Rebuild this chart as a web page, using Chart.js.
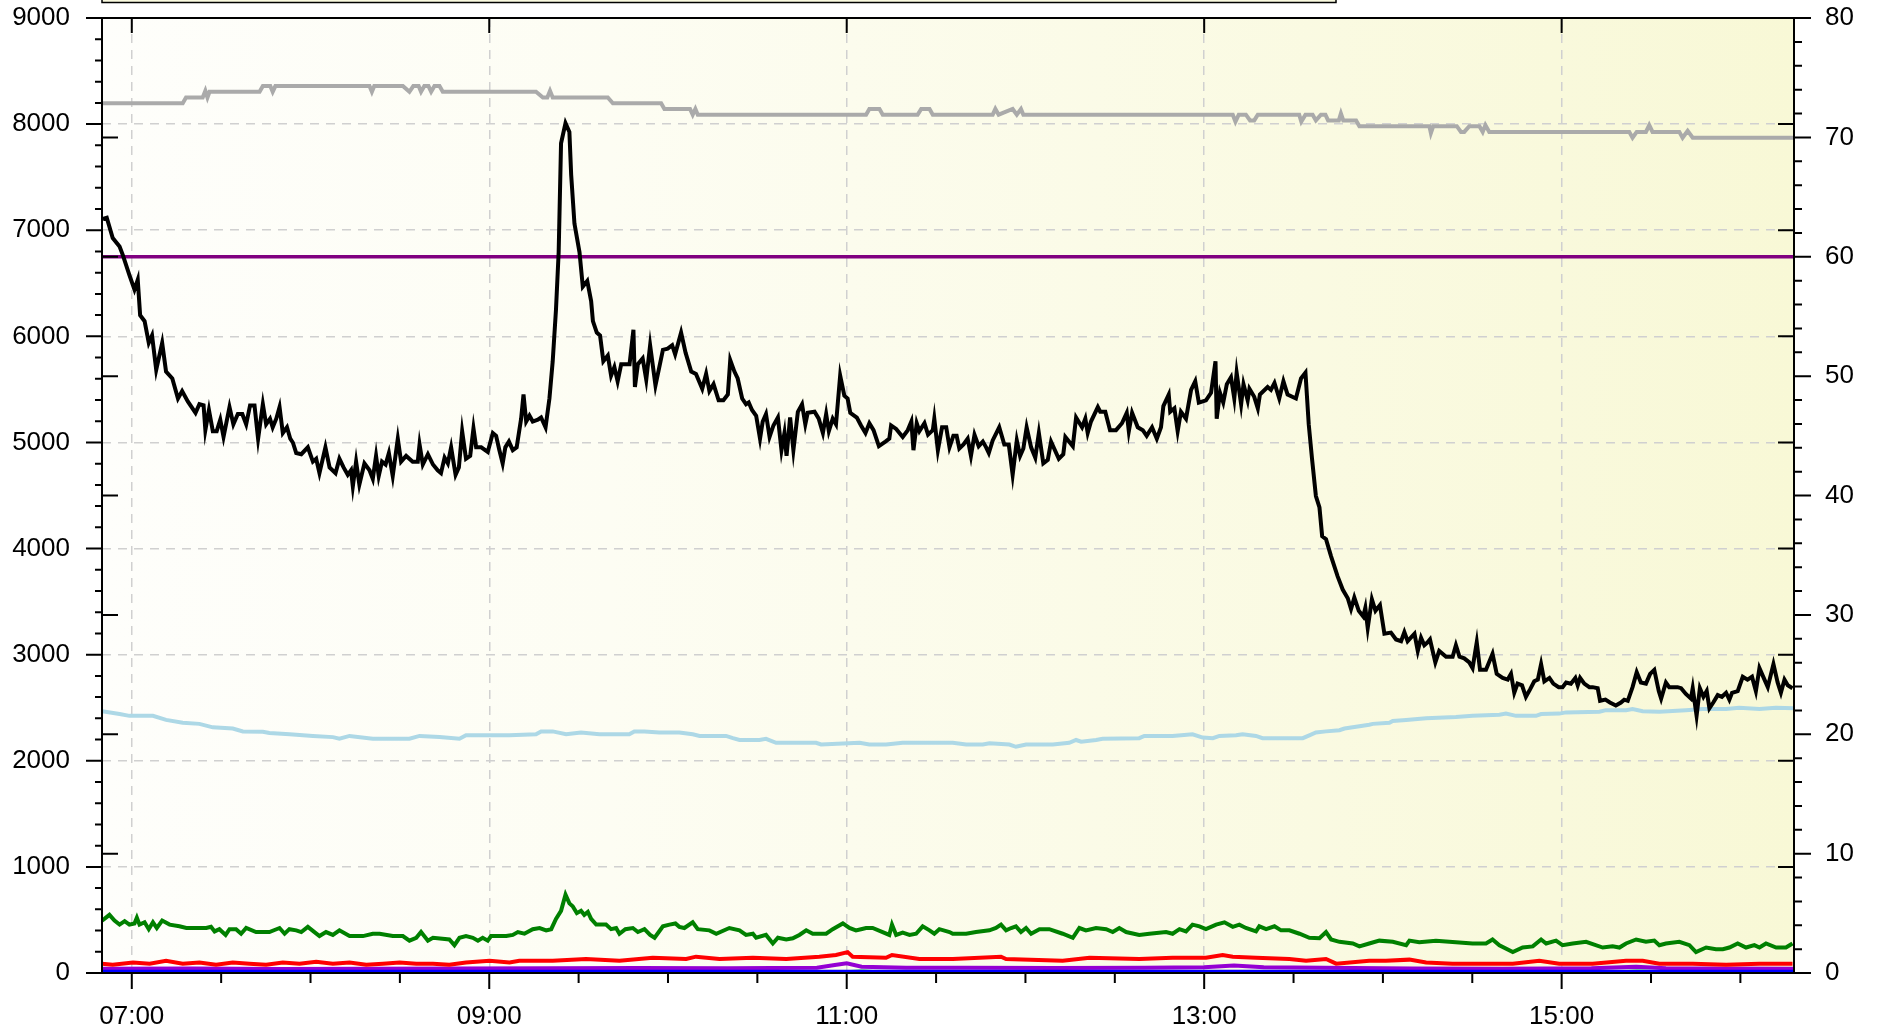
<!DOCTYPE html>
<html>
<head>
<meta charset="utf-8">
<script src="https://cdn.jsdelivr.net/npm/chart.js@4.4.1/dist/chart.umd.min.js"></script>
<style>
  html, body { margin: 0; padding: 0; background: #fff; }
  canvas { display: block; }
</style>
</head>
<body>
<canvas id="chart" width="1877" height="1031"></canvas>
<script>
// x axis is minutes since midnight (06:50 .. 16:18)
const xMin = 410, xMax = 978;
const hourTicks = [420, 540, 660, 780, 900];
const hourLabels = ['07:00', '09:00', '11:00', '13:00', '15:00'];
const halfHourTicks = [420, 450, 480, 510, 540, 570, 600, 630, 660, 690, 720, 750, 780, 810, 840, 870, 900, 930, 960];
const leftTicks = [0, 1000, 2000, 3000, 4000, 5000, 6000, 7000, 8000, 9000];
const leftMinorStep = 200;
const rightTicks = [0, 10, 20, 30, 40, 50, 60, 70, 80];
const rightMinorStep = 2;

// black line (left axis)
const blackTimes = [410.3, 411.6, 413.6, 415.9, 417, 419.2, 420.9, 422, 422.8, 424.3, 425.7, 426.8, 428.2, 430.2, 431.5, 433.6, 435.5, 436.9, 438.8, 441.4,
  442.7, 444.1, 444.7, 445.9, 447.2, 448.5, 449.7, 450.8, 452.8, 454.1, 455.6, 457.1, 458.4, 459.7, 461.2, 462.4, 464, 465.1, 466.4, 467.3,
  468.5, 469.6, 470.7, 472.1, 473.2, 474.1, 475.2, 476.9, 479.1, 480.8, 481.9, 483, 485, 486.4, 488.4, 489.7, 491.1, 492.5, 493.6, 494.2,
  495.3, 496.4, 498.1, 499.8, 500.9, 502, 502.9, 504, 505.2, 506.3, 507.6, 509.3, 510.4, 512.1, 514.3, 516, 516.6, 517.7, 519.4, 521.1,
  522.7, 523.8, 525, 526.1, 527.2, 528.7, 529.8, 530.9, 532.2, 533.6, 534.7, 535.6, 537.3, 539.5, 541.2, 542.3, 543.4, 544.5, 545.4, 546.6,
  547.9, 549.2, 550.7, 551.5, 552.4, 553.5, 554.6, 556.3, 557.4, 558.9, 560.2, 561.3, 562.4, 563.3, 564.1, 565.6, 566.9, 567.5, 568.6, 570.3,
  571.4, 572.9, 574.2, 574.8, 576.1, 577.2, 578.3, 579.8, 580.9, 582, 583.1, 584.3, 587.1, 588.4, 588.9, 589.9, 591.5, 592.7, 594, 595.8,
  598.3, 599.9, 601.4, 602.4, 604.4, 605.9, 607.8, 609.4, 611.5, 612.8, 613.9, 615.3, 617, 618.6, 620.1, 620.9, 622.3, 623.4, 624.9, 626.2,
  627.1, 628.2, 629.6, 630.9, 631.8, 632.9, 634.1, 635.4, 636.9, 638.1, 639.1, 639.8, 641, 642.1, 643.6, 645, 646.1, 646.9, 649.2, 650.6,
  652, 653.1, 654, 655.3, 656.4, 657.8, 659.2, 660.3, 661.2, 663.4, 664.8, 666.3, 667.6, 669, 670.8, 673, 674.3, 674.9, 676.6, 678.8,
  680.5, 681.7, 682.4, 683.5, 684.4, 686.1, 687.3, 688.9, 689.4, 690.6, 692, 693.4, 694.5, 695.8, 696.9, 697.8, 699.2, 700.6, 701.7, 702.9,
  704.3, 705.7, 706.8, 707.7, 709, 711.2, 712.9, 714.4, 715.7, 717.1, 718.2, 719.3, 720.4, 721.9, 723.3, 724.5, 726, 727.5, 728.6, 731.2,
  732.7, 733.4, 735.9, 737, 739, 740.1, 740.9, 742, 744.3, 745.1, 746.8, 748.4, 750.4, 752.4, 754, 754.7, 755.8, 757.7, 759.4, 760.7,
  762.5, 764.1, 765.5, 766.3, 768.1, 768.6, 770, 771.1, 772.2, 773.9, 775.6, 777, 778.2, 780.6, 782.3, 783.8, 784.2, 785.3, 786.4, 787.6,
  789, 790.1, 790.9, 792.4, 793.2, 794.6, 795.2, 796.8, 798, 798.7, 801.3, 802.4, 803.6, 805.2, 806.6, 808, 810.8, 812.5, 814, 815.1,
  816.2, 817.5, 818.7, 819.6, 820.9, 822.6, 824.8, 826.5, 828.2, 829.3, 830.4, 831.9, 833.4, 834.1, 834.9, 836.3, 837.5, 839, 840.5, 842.7,
  844.4, 846.1, 847.2, 848.3, 850.6, 851.7, 852.8, 853.9, 855, 855.8, 857.6, 858.9, 861.2, 863.4, 864.5, 865.7, 867.3, 869, 870.1, 871.5,
  872.6, 874.6, 876.8, 878.2, 880.2, 881.9, 883, 884.1, 885.2, 886.7, 888, 889.4, 890.8, 892, 893.1, 894.2, 895.9, 897.2, 899, 900.3,
  901.5, 903.1, 904.6, 905.4, 906.2, 907.6, 909.3, 910.4, 912.1, 912.9, 914.7, 916.2, 918.2, 919.9, 921, 922.2, 923.8, 925.2, 926.6, 928.3,
  929.7, 931.1, 932.6, 933.4, 935, 936.1, 938.9, 940.1, 941.7, 943.4, 944, 945.3, 946.4, 947.6, 948.7, 949.6, 950.9, 952.4, 953.8, 955.2,
  956.3, 957.2, 959.1, 960.8, 962.4, 963.9, 965.2, 966.4, 967.5, 969.2, 971.1, 972.5, 973.6, 974.8, 975.9, 977.5];
const blackValues = [7106, 7117, 6927, 6846, 6765, 6576, 6441, 6533, 6198, 6143, 5938, 6008, 5684, 5938, 5668, 5603, 5414, 5484, 5387, 5279,
  5360, 5349, 5116, 5306, 5106, 5106, 5214, 5052, 5333, 5171, 5268, 5268, 5171, 5349, 5349, 5035, 5360, 5171, 5224, 5143,
  5224, 5333, 5089, 5143, 5035, 4997, 4900, 4889, 4954, 4819, 4846, 4711, 4954, 4765, 4711, 4846, 4765, 4695, 4738, 4587,
  4819, 4603, 4803, 4738, 4657, 4873, 4684, 4819, 4792, 4900, 4684, 5035, 4819, 4873, 4819, 4819, 4981, 4792, 4889, 4792,
  4738, 4711, 4857, 4803, 4954, 4695, 4765, 5106, 4846, 4873, 5133, 4954, 4954, 4911, 5089, 5062, 4927, 4803, 4954, 5008,
  4927, 4954, 5224, 5452, 5197, 5252, 5197, 5214, 5235, 5143, 5414, 5765, 6252, 6792, 7819, 8009, 7927, 7522, 7063, 6792,
  6468, 6522, 6333, 6144, 6035, 6008, 5765, 5819, 5630, 5711, 5576, 5738, 5738, 6062, 5522, 5738, 5792, 5592, 5916, 5538,
  5873, 5884, 5916, 5830, 6035, 5846, 5668, 5646, 5506, 5646, 5484, 5549, 5397, 5397, 5452, 5776, 5668, 5603, 5414, 5360,
  5376, 5306, 5252, 5035, 5197, 5268, 5052, 5160, 5235, 4927, 5089, 4873, 5235, 4927, 5289, 5360, 5171, 5279, 5289, 5224,
  5089, 5268, 5106, 5224, 5171, 5630, 5441, 5414, 5279, 5235, 5160, 5089, 5181, 5116, 4965, 5008, 5035, 5160, 5127, 5052,
  5116, 5197, 4927, 5181, 5106, 5181, 5073, 5116, 5224, 4927, 5143, 5143, 4954, 5062, 5062, 4943, 4981, 5035, 4873, 5073,
  4965, 5008, 4954, 4900, 5019, 5143, 4981, 4981, 4695, 5019, 4873, 4943, 5143, 4954, 4857, 5089, 4803, 4835, 5008, 4846,
  4889, 5052, 4965, 5235, 5143, 5224, 5089, 5197, 5333, 5289, 5289, 5116, 5116, 5181, 5279, 5106, 5279, 5143, 5116, 5062,
  5143, 5035, 5143, 5343, 5451, 5289, 5322, 5106, 5289, 5224, 5495, 5576, 5376, 5397, 5468, 5765, 5224, 5468, 5376, 5549,
  5614, 5414, 5657, 5360, 5549, 5397, 5506, 5430, 5322, 5451, 5522, 5495, 5560, 5414, 5576, 5451, 5414, 5603, 5657, 5170,
  4846, 4495, 4387, 4116, 4089, 3927, 3738, 3614, 3532, 3430, 3538, 3413, 3359, 3441, 3251, 3522, 3414, 3468, 3197, 3208,
  3143, 3127, 3213, 3127, 3197, 3035, 3160, 3089, 3116, 3143, 2927, 3035, 2981, 2981, 3089, 2981, 2965, 2927, 2873, 3116,
  2857, 2857, 3008, 2819, 2781, 2765, 2819, 2641, 2727, 2711, 2603, 2673, 2749, 2765, 2911, 2749, 2781, 2727, 2694, 2694,
  2738, 2727, 2781, 2711, 2781, 2727, 2694, 2694, 2684, 2565, 2576, 2549, 2521, 2549, 2576, 2565, 2694, 2835, 2738, 2727,
  2819, 2857, 2657, 2586, 2738, 2694, 2694, 2684, 2630, 2586, 2684, 2424, 2684, 2603, 2657, 2494, 2549, 2619, 2603, 2641,
  2576, 2641, 2657, 2792, 2765, 2792, 2657, 2873, 2803, 2694, 2911, 2738, 2641, 2765, 2711, 2684];

// grey line (right axis)
const greyTimes = [410, 437.1, 438.2, 443.8, 444.7, 445.4, 446.1, 462.9, 464, 466.5, 467.3, 468.2, 499.8, 500.6, 501.4, 511, 513.2, 514.5, 516.3, 517.1,
  518.2, 519.6, 520.5, 521.6, 523.3, 524.4, 555.7, 558, 559.5, 560.4, 561.3, 579.8, 581.5, 597.7, 598.8, 607.4, 608.3, 609.2, 610, 666.5,
  667.6, 671, 672.1, 683.8, 685, 687.8, 688.9, 709, 709.9, 711, 715.7, 717.1, 718.5, 719.3, 789.6, 790.5, 791.6, 794, 795.4, 796.8,
  798, 811.9, 812.6, 814, 816.4, 817.5, 819.2, 820.7, 821.6, 825.2, 825.9, 826.7, 831, 832.1, 855.6, 856.1, 856.9, 864.8, 866.2, 867.3,
  869, 872.4, 873.5, 874.4, 875.7, 922.7, 923.8, 925.2, 928.3, 929.4, 930.5, 939.5, 940.6, 942.3, 944, 978];
const greyValues = [72.86, 72.86, 73.34, 73.34, 73.9, 73.34, 73.82, 73.82, 74.3, 74.3, 73.82, 74.3, 74.3, 73.82, 74.3, 74.3, 73.82, 74.3, 74.3, 73.82,
  74.3, 74.3, 73.82, 74.3, 74.3, 73.82, 73.82, 73.34, 73.34, 73.9, 73.34, 73.34, 72.86, 72.86, 72.38, 72.38, 71.9, 72.38, 71.9, 71.9,
  72.38, 72.38, 71.9, 71.9, 72.38, 72.38, 71.9, 71.9, 72.38, 71.9, 72.38, 71.9, 72.38, 71.9, 71.9, 71.32, 71.9, 71.9, 71.42, 71.42,
  71.9, 71.9, 71.32, 71.9, 71.9, 71.42, 71.9, 71.9, 71.42, 71.42, 72.0, 71.42, 71.42, 70.94, 70.94, 70.36, 70.94, 70.94, 70.46, 70.46,
  70.94, 70.94, 70.46, 71.03, 70.46, 70.46, 69.97, 70.46, 70.46, 71.03, 70.46, 70.46, 69.97, 70.55, 69.97, 69.97];

// light blue line (right axis)
const blueLightTimes = [410, 415.9, 419.2, 427.1, 431.5, 437.1, 442.7, 447.2, 453.9, 457.3, 464, 466.2, 473, 480.8, 487.5, 489.7, 493.1, 500.9, 513.2, 516.6,
  523.3, 530, 532.2, 546.8, 555.7, 557.4, 561.3, 565.8, 570.8, 577, 587, 588.7, 592.1, 597.1, 603.8, 608.3, 610.6, 619.5, 621.8, 624,
  630.7, 632.9, 636.3, 649.7, 651.4, 664.3, 667.6, 673.2, 678.8, 695.6, 700.1, 705.7, 707.9, 714.6, 716.8, 720.2, 729.2, 734.7, 737, 738.7,
  743.7, 745.9, 758.2, 759.9, 765, 769.4, 776.1, 779.5, 782.9, 785.1, 790.7, 792.9, 797.4, 799.6, 813.1, 815.3, 817.5, 820.9, 825.4, 827.1,
  831, 835.4, 836.6, 842.2, 843.3, 847.8, 854.5, 864.5, 870.1, 879.1, 881.3, 884.7, 891.4, 893.1, 899.2, 901.5, 912.7, 914.9, 921.6, 923.8,
  927.2, 932.8, 941.7, 947.3, 955.2, 959.6, 966.4, 971.9, 978];
const blueLightValues = [21.93, 21.69, 21.54, 21.54, 21.2, 20.96, 20.87, 20.58, 20.48, 20.24, 20.2, 20.1, 20.0, 19.86, 19.76, 19.62, 19.86, 19.62, 19.62, 19.86,
  19.76, 19.62, 19.91, 19.91, 20.0, 20.24, 20.24, 20.0, 20.15, 20.0, 20.0, 20.24, 20.24, 20.15, 20.15, 20.0, 19.86, 19.86, 19.67, 19.52,
  19.52, 19.62, 19.28, 19.28, 19.14, 19.28, 19.14, 19.14, 19.28, 19.28, 19.14, 19.14, 19.24, 19.14, 18.95, 19.14, 19.14, 19.28, 19.52, 19.38,
  19.52, 19.62, 19.67, 19.86, 19.86, 19.86, 20.0, 19.72, 19.67, 19.86, 19.91, 20.0, 19.86, 19.67, 19.67, 19.91, 20.15, 20.24, 20.34, 20.48,
  20.63, 20.8, 20.87, 20.96, 21.11, 21.2, 21.35, 21.45, 21.54, 21.64, 21.73, 21.54, 21.54, 21.69, 21.73, 21.83, 21.88, 22.02, 22.02, 22.12,
  21.93, 21.88, 22.02, 22.12, 22.12, 22.21, 22.12, 22.21, 22.17];

// purple limit line (right axis)
const limitTimes = [410, 978];
const limitValues = [60, 60];

// green line (left axis)
const greenTimes = [410, 410.8, 412.5, 414.2, 415.9, 417.6, 419.2, 420.9, 421.7, 422.6, 424.3, 425.7, 427.1, 428.4, 430.2, 432.7, 436, 438.3, 445, 446.6,
  447.8, 449.4, 451.5, 452.8, 455, 456.7, 458.4, 461.7, 466.2, 469.6, 471.3, 472.9, 475.2, 476.9, 479.1, 483, 485.2, 487.5, 489.7, 493.1,
  497.6, 500.9, 503.2, 507.6, 511, 513.2, 515.5, 517.1, 519.4, 521.1, 526.6, 528.3, 530, 532.2, 534.5, 536.2, 537.8, 539.5, 540.6, 545.7,
  547.9, 549.6, 551.8, 554.6, 556.9, 559.1, 560.8, 562.4, 564.1, 565.6, 566.9, 568, 569.4, 570.8, 571.9, 573.1, 574.2, 575.9, 579.2, 580.9,
  582.6, 583.7, 585.7, 588.2, 589.9, 592.1, 594, 595.5, 598.3, 600.5, 602.5, 603.8, 605.5, 608.3, 610, 613.9, 616.2, 620.6, 624, 626.2,
  628.5, 629.6, 632.9, 635.2, 636.9, 639.7, 641.9, 644.1, 646.4, 648.6, 653.1, 655.3, 658.7, 660.9, 663.1, 664.8, 666.5, 668.7, 674.3, 675.2,
  676.6, 678.8, 681.1, 683.3, 685.5, 687.8, 689.4, 691.1, 694.5, 695.6, 700.1, 703.4, 707.9, 710.1, 711.8, 713.5, 715.2, 716.8, 718.5, 720.2,
  721.9, 724.7, 728, 732.5, 735.9, 738.1, 740.3, 743.7, 747.1, 749.3, 751.5, 753.8, 758.2, 761.6, 767.2, 769.4, 771.7, 773.9, 776.1, 778.4,
  780.6, 784, 786.8, 789.6, 791.8, 794, 797.4, 798.5, 800.8, 803.6, 805.8, 808.6, 812, 815.3, 818.7, 820.9, 822.6, 825.4, 829.9, 832.1,
  835.4, 838.8, 843.3, 847.8, 848.9, 852.2, 857.8, 864.5, 870.1, 874.6, 876.8, 879.1, 883.6, 886.9, 890.3, 893.1, 894.8, 898.1, 900.3, 903.7,
  908.2, 913.8, 917.1, 919.4, 921.6, 925, 928.3, 931.1, 932.8, 935, 939.5, 942.9, 945.1, 948.5, 951.8, 954.1, 956.3, 959.1, 961.9, 964.7,
  966.4, 968.6, 972, 975.3, 977.5];
const greenValues = [494, 510, 548, 494, 456, 489, 456, 467, 521, 456, 478, 413, 478, 424, 494, 456, 440, 424, 424, 435,
  392, 413, 359, 413, 413, 370, 424, 386, 386, 424, 370, 413, 402, 386, 435, 348, 386, 359, 402, 348,
  348, 370, 370, 348, 348, 305, 332, 386, 305, 332, 316, 262, 332, 348, 332, 305, 332, 305, 348, 348,
  359, 386, 370, 413, 424, 402, 413, 510, 586, 738, 656, 629, 564, 586, 548, 575, 510, 456, 456, 413,
  424, 370, 413, 424, 386, 413, 359, 332, 440, 456, 467, 435, 424, 478, 413, 402, 370, 424, 402, 359,
  370, 332, 359, 278, 332, 316, 327, 359, 402, 370, 370, 413, 467, 424, 402, 413, 424, 424, 359, 456,
  359, 381, 359, 370, 440, 402, 370, 413, 386, 370, 370, 386, 402, 424, 456, 402, 424, 440, 386, 424,
  370, 413, 413, 370, 332, 424, 402, 424, 413, 386, 424, 386, 359, 370, 386, 370, 413, 392, 456, 440,
  413, 456, 478, 435, 456, 424, 392, 440, 413, 440, 402, 402, 370, 332, 327, 386, 316, 294, 278, 251,
  278, 305, 294, 262, 305, 289, 305, 289, 278, 278, 316, 262, 197, 240, 251, 316, 278, 305, 262, 278,
  294, 240, 251, 240, 278, 316, 294, 305, 262, 278, 294, 262, 197, 240, 224, 224, 240, 278, 240, 262,
  240, 278, 240, 240, 278];

// red line (left axis)
const redTimes = [410, 413.6, 420.4, 426, 431.5, 437.1, 442.7, 448.3, 453.9, 459.5, 465.1, 470.7, 476.3, 481.9, 487.5, 493.1, 498.7, 504.3, 509.9, 515.5,
  521.1, 526.6, 532.2, 540.1, 546.8, 550.1, 561.3, 572.5, 583.7, 594.9, 606.1, 609.4, 617.3, 628.5, 639.7, 650.8, 656.4, 660.3, 662, 673.2,
  675.2, 684.4, 695.6, 711.8, 713.5, 732.5, 741.5, 758.2, 769.4, 780.6, 786.2, 789.6, 797.4, 808.6, 814.2, 820.9, 824.3, 835.4, 841, 848.9,
  854.5, 863.4, 883.6, 892.5, 899.2, 910.4, 921.6, 927.2, 932.8, 944, 955.2, 966.4, 977.5];
const redValues = [88, 78, 99, 88, 115, 88, 99, 78, 99, 88, 78, 99, 88, 105, 88, 99, 78, 88, 99, 88,
  88, 78, 99, 115, 99, 115, 115, 132, 115, 143, 132, 154, 132, 143, 132, 154, 170, 197, 154, 143,
  170, 132, 132, 154, 132, 115, 143, 132, 143, 143, 170, 154, 143, 132, 115, 132, 88, 115, 115, 126,
  99, 88, 88, 115, 88, 88, 115, 115, 88, 88, 78, 88, 88];

// violet, blue and light green lines near zero (left axis)
const violetTimes = [410, 440, 470, 500, 530, 560, 590, 620, 650, 656, 660, 665, 680, 700, 730, 760, 780, 790, 800, 820, 850, 880, 910, 925, 935, 950, 978];
const violetValues = [40, 42, 38, 40, 42, 45, 48, 45, 50, 75, 92, 60, 50, 50, 48, 50, 55, 70, 55, 50, 42, 40, 45, 60, 45, 42, 40];
const blueTimes = [410, 978];
const blueValues = [12, 12];
const paleGreenTimes = [410, 552, 557, 562, 660, 665, 670, 920, 926, 932, 978];
const paleGreenValues = [5, 5, 18, 5, 5, 20, 5, 5, 22, 5, 5];

function pairs(times, values) {
    return times.map((t, i) => ({ x: t, y: values[i] }));
}

function hhmm(m) {
    const h = Math.floor(m / 60), mm = m % 60;
    return String(h).padStart(2, '0') + ':' + String(mm).padStart(2, '0');
}

const font = { family: 'Liberation Sans', size: 26 };

// drop the label overflow padding so the plot top sits right under the legend box
function noPad(s) {
    s.paddingTop = 0;
    s.paddingBottom = 0;
    s.paddingLeft = 0;
    s.paddingRight = 0;
}

// background, cut-off legend box, frame and all tick marks
const frame = {
    id: 'frame',
    beforeDraw(chart) {
        const { ctx, chartArea: a } = chart;
        const g = ctx.createLinearGradient(a.left, 0, a.right, 0);
        g.addColorStop(0, '#fefefb');
        g.addColorStop(0.3, '#fdfdf3');
        g.addColorStop(1, '#f8f8d6');
        ctx.save();
        ctx.fillStyle = g;
        ctx.fillRect(a.left, a.top, a.right - a.left, a.bottom - a.top);
        ctx.fillStyle = '#fafadf';
        ctx.fillRect(a.left, -6, 1234, 8.5);
        ctx.strokeStyle = '#000';
        ctx.lineWidth = 1.5;
        ctx.strokeRect(a.left, -6, 1234, 8.5);
        ctx.restore();
    },
    afterDraw(chart) {
        const { ctx, chartArea: a, scales } = chart;
        const x = scales.x, y = scales.y, y2 = scales.y2;
        ctx.save();
        ctx.strokeStyle = '#000';
        ctx.lineWidth = 2;
        ctx.beginPath();
        const seg = (x1, y1, x2, y2p) => { ctx.moveTo(x1, y1); ctx.lineTo(x2, y2p); };

        for (let v = 0; v <= 9000; v += leftMinorStep) {
            const p = y.getPixelForValue(v);
            const major = leftTicks.includes(v);
            seg(a.left - (major ? 16 : 7), p, a.left, p);
            if (major) seg(a.right - 16, p, a.right, p);
        }
        for (let v = 0; v <= 80; v += rightMinorStep) {
            const p = y2.getPixelForValue(v);
            const major = rightTicks.includes(v);
            seg(a.right, p, a.right + (major ? 17 : 8), p);
            if (major) seg(a.left, p, a.left + 16, p);
        }
        halfHourTicks.forEach(m => {
            const p = x.getPixelForValue(m);
            const major = hourTicks.includes(m);
            seg(p, a.bottom, p, a.bottom + (major ? 16 : 10));
            if (major) seg(p, a.top, p, a.top + 15);
        });
        ctx.stroke();
        ctx.strokeRect(a.left, a.top, a.right - a.left, a.bottom - a.top);
        ctx.restore();
    }
};

const ctx = document.getElementById('chart').getContext('2d');
new Chart(ctx, {
    type: 'line',
    data: {
        datasets: [
            { data: pairs(blackTimes, blackValues), borderColor: '#000000', yAxisID: 'y' },
            { data: pairs(limitTimes, limitValues), borderColor: '#800080', borderWidth: 3.5, yAxisID: 'y2' },
            { data: pairs(greyTimes, greyValues), borderColor: '#aaaaaa', yAxisID: 'y2' },
            { data: pairs(blueLightTimes, blueLightValues), borderColor: '#add8e6', yAxisID: 'y2' },
            { data: pairs(greenTimes, greenValues), borderColor: '#008000', yAxisID: 'y' },
            { data: pairs(redTimes, redValues), borderColor: '#ff0000', yAxisID: 'y' },
            { data: pairs(blueTimes, blueValues), borderColor: '#0000ff', yAxisID: 'y' },
            { data: pairs(violetTimes, violetValues), borderColor: '#9400d3', yAxisID: 'y' },
            { data: pairs(paleGreenTimes, paleGreenValues), borderColor: '#90ee90', yAxisID: 'y' }
        ]
    },
    options: {
        responsive: false,
        animation: false,
        layout: { padding: { top: 18 } },
        plugins: { legend: { display: false }, tooltip: { enabled: false } },
        elements: {
            point: { radius: 0 },
            line: { tension: 0, borderWidth: 4, borderJoinStyle: 'miter', fill: false }
        },
        scales: {
            x: {
                type: 'linear',
                min: xMin,
                max: xMax,
                afterBuildTicks: s => { s.ticks = hourTicks.map(v => ({ value: v })); },
                afterFit: s => { s.height = 58; noPad(s); },
                ticks: {
                    callback: v => hourLabels[hourTicks.indexOf(v)] || hhmm(v),
                    padding: 28, font, color: '#000', maxRotation: 0, autoSkip: false
                },
                grid: { color: '#d0d0d0', lineWidth: 1.5, drawTicks: false },
                border: { display: false, dash: [9, 7] }
            },
            y: {
                position: 'left',
                min: 0,
                max: 9000,
                afterBuildTicks: s => { s.ticks = leftTicks.map(v => ({ value: v })); },
                afterFit: s => { s.width = 102; noPad(s); },
                ticks: { callback: v => String(v), padding: 32, font, color: '#000', autoSkip: false },
                grid: { color: '#d0d0d0', lineWidth: 1.5, drawTicks: false },
                border: { display: false, dash: [9, 7] }
            },
            y2: {
                position: 'right',
                min: 0,
                max: 80,
                afterBuildTicks: s => { s.ticks = rightTicks.map(v => ({ value: v })); },
                afterFit: s => { s.width = 83; noPad(s); },
                ticks: { callback: v => String(v), padding: 31, font, color: '#000', autoSkip: false },
                grid: { drawOnChartArea: false, drawTicks: false },
                border: { display: false }
            }
        }
    },
    plugins: [frame]
});
</script>
</body>
</html>
